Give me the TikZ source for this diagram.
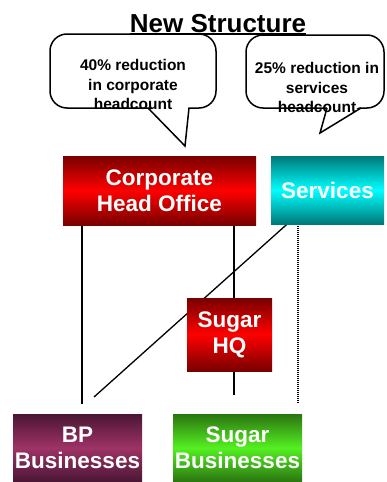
\documentclass[tikz,border=0pt]{standalone}
\usepackage{fontspec}
\setmainfont{Liberation Sans}
\usetikzlibrary{backgrounds}
\definecolor{redDark}{HTML}{780000}
\definecolor{redMid}{HTML}{FF0000}
\definecolor{tealDark}{HTML}{007878}
\definecolor{tealMid}{HTML}{00FFFF}
\definecolor{plumDark}{HTML}{4A1634}
\definecolor{plumMid}{HTML}{9E3366}
\definecolor{greenDark}{HTML}{2A7410}
\definecolor{greenMid}{HTML}{55F022}
\begin{document}
\begin{tikzpicture}[x=1pt,y=-1pt,
  unit/.style={text=white, font=\bfseries\fontsize{22.5}{26}\selectfont,
    align=center, inner sep=0pt},
  redunit/.style={unit, top color=redDark, bottom color=redDark, middle color=redMid},
  tealunit/.style={unit, top color=tealDark, bottom color=tealDark, middle color=tealMid},
  plumunit/.style={unit, top color=plumDark, bottom color=plumDark, middle color=plumMid},
  greenunit/.style={unit, top color=greenDark, bottom color=greenDark, middle color=greenMid},
  link/.style={draw=black, line width=1.3pt},
  dotlink/.style={draw=black, line width=1.3pt, dash pattern=on 1.2pt off 0.8pt},
  bubble/.style={draw=black, fill=white, line width=1.5pt, rounded corners=17pt},
  bubbletext/.style={font=\bfseries\fontsize{15.5}{19.5}\selectfont, align=center, inner sep=0pt},
  titletext/.style={font=\bfseries\fontsize{26}{30}\selectfont, inner sep=0pt}]

\useasboundingbox (0,0) rectangle (386,482);

% speech bubbles
\draw[bubble] (50,34) rectangle (216,108);
\fill[white] (148.5,106) -- (185,146) -- (188.5,106) -- cycle;
\draw[line width=1.5pt, line join=miter] (148,108) -- (185,146) -- (189,108);
\node[bubbletext] (noteA) at (133,84.5) {40\% reduction\\in corporate\\headcount};

\draw[bubble] (246,35) rectangle (384,108);
\fill[white] (327.5,106) -- (320,133) -- (360.5,106) -- cycle;
\draw[line width=1.5pt, line join=miter] (327,108) -- (320,133) -- (361,108);
\node[bubbletext] (noteB) at (317,87.5) {25\% reduction in\\services\\headcount};

% heading, underlined over the bubble tops
\node[titletext, anchor=base] (title) at (218,32) {New Structure};
\draw[line width=1.5pt] ([yshift=-1.8pt]title.base west) -- ([yshift=-1.8pt]title.base east);

% organisation units
\node[redunit, minimum width=193pt, minimum height=69pt] (corp) at (159.5,190.5) {Corporate\\Head Office};
\node[tealunit, minimum width=113pt, minimum height=68pt] (svc) at (327.5,190) {Services};
\node[redunit, minimum width=85pt, minimum height=73pt] (hq) at (229.5,334.5) {Sugar\\HQ};
\node[plumunit, minimum width=129pt, minimum height=68pt] (bp) at (77.5,448) {BP\\Businesses};
\node[greenunit, minimum width=129pt, minimum height=68pt] (sugar) at (237.5,448) {Sugar\\Businesses};

% free ends of the reporting lines
\coordinate (bpEnd) at (82,404);
\coordinate (hqEnd) at (234,395);
\coordinate (diagStart) at (287,0);
\coordinate (diagEnd) at (94,397);
\coordinate (dotEnd) at (298,404);

\begin{scope}[on background layer]
  \draw[link] (corp.south -| bpEnd) -- (bpEnd);
  \draw[link] (corp.south -| hqEnd) -- (hqEnd);
  \draw[link] (svc.south -| diagStart) -- (diagEnd);
  \draw[dotlink] (svc.south -| dotEnd) -- (dotEnd);
\end{scope}
\end{tikzpicture}
\end{document}
